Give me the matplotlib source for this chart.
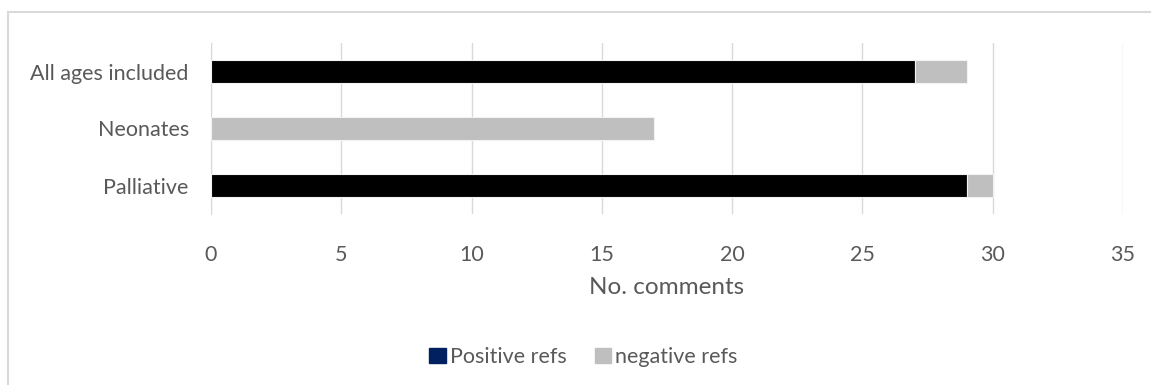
import matplotlib.pyplot as plt
from matplotlib.patches import Patch, Rectangle

# data
categories = ["Palliative", "Neonates", "All ages included"]
positive = [29, 0, 27]
negative = [1, 17, 2]
ticks = [0, 5, 10, 15, 20, 25, 30, 35]

plt.rcParams['font.family'] = ['Lato', 'DejaVu Sans']
txt = '#595959'

fig = plt.figure(figsize=(11.51, 3.85), dpi=100)
# chart border like the spreadsheet frame
fig.patches.append(Rectangle((8 / 1151, -0.01), 1.02, 1 - 12 / 385 + 0.01, transform=fig.transFigure,
                             fill=False, edgecolor='#d9d9d9', linewidth=1.5))
ax = fig.add_axes([211 / 1151, 1 - 214 / 385, (1123 - 211) / 1151, (214 - 43) / 385])

y = range(len(categories))
ax.barh(y, positive, height=0.41, color='black', edgecolor='#f2f2f2', linewidth=0.8, zorder=3)
ax.barh(y, negative, left=positive, height=0.41, color='#bfbfbf', edgecolor='#f2f2f2',
        linewidth=0.8, zorder=3)

ax.set_xlim(0, 35)
ax.set_ylim(-0.5, 2.5)
ax.set_xticks(ticks)
ax.set_yticks(list(y))
ax.set_yticklabels(categories)
ax.grid(axis='x', color='#d9d9d9', linewidth=1, zorder=0)
for s in ['top', 'right', 'bottom']:
    ax.spines[s].set_visible(False)
ax.spines['left'].set_color('#d9d9d9')
ax.tick_params(length=0, colors=txt, labelsize=15.5)
ax.tick_params(axis='x', pad=22)
ax.tick_params(axis='y', pad=16)
ax.set_xlabel("No. comments", color=txt, fontsize=17.5, labelpad=9)

handles = [Patch(color='#002060', label='Positive refs'),
           Patch(color='#bfbfbf', label='negative refs')]
fig.legend(handles=handles, loc='center', bbox_to_anchor=(583.5 / 1151, 1 - 357 / 385), ncol=2,
           frameon=False, fontsize=15.5, labelcolor=txt, handlelength=0.75, handleheight=0.75,
           handletextpad=0.2, columnspacing=1.3)

fig.savefig('out.png', dpi=100)
